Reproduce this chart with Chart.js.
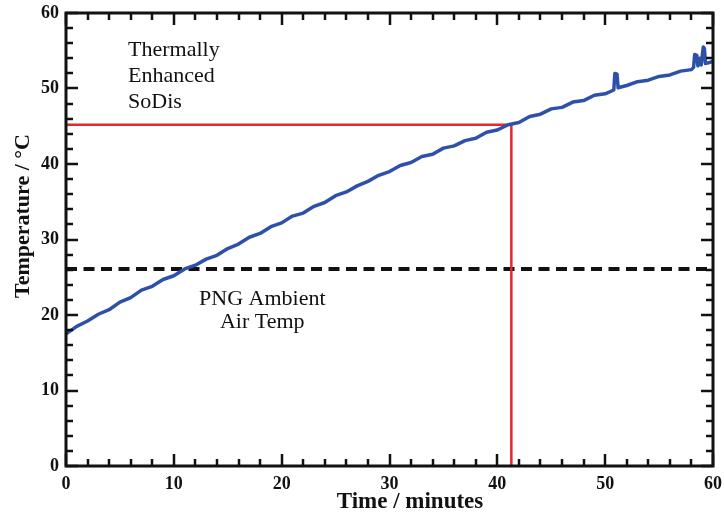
<!DOCTYPE html>
<html>
<head>
<meta charset="utf-8">
<script src="https://cdn.jsdelivr.net/npm/chart.js@4.4.1/dist/chart.umd.min.js"></script>
<style>
  html, body { margin: 0; padding: 0; background: #fff; }
  canvas { display: block; }
</style>
</head>
<body>
<canvas id="chart" width="724" height="516"></canvas>
<script>
// ── Data ─────────────────────────────────────────────────────────────────────
const TIME_MIN = [
  0, 1, 2, 3, 4, 5, 6, 7, 8, 9, 10, 11, 12, 13, 14, 15, 16, 17, 18, 19, 20,
  21, 22, 23, 24, 25, 26, 27, 28, 29, 30, 31, 32, 33, 34, 35, 36, 37, 38, 39, 40,
  41, 42, 43, 44, 45, 46, 47, 48, 49, 50, 50.8, 50.9, 51.1, 51.2, 52, 53, 54, 55, 56, 57, 58,
  58.2, 58.3, 58.5, 58.6, 58.8, 58.9, 59.1, 59.2, 59.3, 60,
];
const TEMP_C = [
  17.5, 18.5, 19.2, 20.1, 20.7, 21.7, 22.3, 23.3, 23.8, 24.7, 25.2, 26.1, 26.6, 27.4, 27.9, 28.8, 29.4, 30.3, 30.8, 31.7, 32.2,
  33.1, 33.5, 34.4, 34.9, 35.8, 36.3, 37.1, 37.7, 38.5, 39.0, 39.8, 40.2, 41.0, 41.3, 42.1, 42.4, 43.1, 43.4, 44.2, 44.5,
  45.2, 45.5, 46.3, 46.6, 47.3, 47.5, 48.2, 48.4, 49.1, 49.3, 49.8, 52.0, 51.9, 50.1, 50.4, 50.9, 51.1, 51.6, 51.8, 52.3, 52.5,
  52.8, 54.5, 54.4, 53.0, 54.0, 53.1, 55.5, 55.3, 53.3, 53.6,
];

const AMBIENT_TEMP = 26.1;      // PNG ambient air temperature
const MARK_TIME = 41.3;         // red guide: time reached
const MARK_TEMP = 45.2;         // red guide: temperature reached

const X_RANGE = [0, 60];
const Y_RANGE = [0, 60];

const FONT = "'Liberation Serif', 'Times New Roman', serif";
const BLUE = '#2d50a8';
const RED  = '#e8262e';
const INK  = '#111111';

// ── Frame, inward ticks, titles and notes ────────────────────────────────────
const framePlugin = {
  id: 'frame',
  afterDraw(chart) {
    const { ctx, chartArea: a, scales: { x, y } } = chart;
    ctx.save();
    ctx.strokeStyle = INK;
    ctx.lineWidth = 2.5;
    ctx.lineCap = 'butt';

    // ticks every 2, long every 10, pointing inward on all four sides
    ctx.beginPath();
    for (let v = X_RANGE[0]; v <= X_RANGE[1]; v += 2) {
      const len = v % 10 === 0 ? 12 : 7;
      const px = Math.round(x.getPixelForValue(v));
      ctx.moveTo(px, a.bottom); ctx.lineTo(px, a.bottom - len);
      ctx.moveTo(px, a.top);    ctx.lineTo(px, a.top + len);
    }
    for (let v = Y_RANGE[0]; v <= Y_RANGE[1]; v += 2) {
      const len = v % 10 === 0 ? 12 : 7;
      const py = Math.round(y.getPixelForValue(v));
      ctx.moveTo(a.left, py);  ctx.lineTo(a.left + len, py);
      ctx.moveTo(a.right, py); ctx.lineTo(a.right - len, py);
    }
    ctx.stroke();

    ctx.lineWidth = 3;
    ctx.strokeRect(a.left, a.top, a.right - a.left, a.bottom - a.top);

    // axis titles
    ctx.fillStyle = INK;
    ctx.font = `bold 23px ${FONT}`;
    ctx.textAlign = 'center';
    ctx.textBaseline = 'alphabetic';
    ctx.fillText('Time / minutes', 410, 508);

    ctx.save();
    ctx.translate(29, 216);
    ctx.rotate(-Math.PI / 2);
    ctx.font = `bold 22px ${FONT}`;
    ctx.fillText('Temperature / °C', 0, 0);
    ctx.restore();

    // in-plot notes
    ctx.font = `22px ${FONT}`;
    ctx.textAlign = 'left';
    ['Thermally', 'Enhanced', 'SoDis'].forEach((s, i) => {
      ctx.fillText(s, x.getPixelForValue(5.75), y.getPixelForValue(54.3) + i * 26);
    });
    ctx.textAlign = 'center';
    ctx.fillText('PNG Ambient', x.getPixelForValue(18.2), y.getPixelForValue(21.3));
    ctx.fillText('Air Temp', x.getPixelForValue(18.2), y.getPixelForValue(21.3) + 23);
    ctx.restore();
  },
};

// ── Chart ────────────────────────────────────────────────────────────────────
const tempPoints = TIME_MIN.map((t, i) => ({ x: t, y: TEMP_C[i] }));

new Chart(document.getElementById('chart'), {
  type: 'line',
  data: {
    datasets: [
      {
        label: 'Ambient',
        data: [{ x: X_RANGE[0], y: AMBIENT_TEMP }, { x: X_RANGE[1], y: AMBIENT_TEMP }],
        borderColor: INK,
        borderWidth: 4,
        borderDash: [11, 6.5],
        pointRadius: 0,
        order: 3,
      },
      {
        label: 'Guide',
        data: [{ x: X_RANGE[0], y: MARK_TEMP }, { x: MARK_TIME, y: MARK_TEMP }, { x: MARK_TIME, y: Y_RANGE[0] }],
        borderColor: RED,
        borderWidth: 2.5,
        pointRadius: 0,
        order: 2,
      },
      {
        label: 'Thermally Enhanced SoDis',
        data: tempPoints,
        borderColor: BLUE,
        borderWidth: 3.5,
        borderJoinStyle: 'round',
        pointRadius: 0,
        tension: 0,
        order: 1,
      },
    ],
  },
  options: {
    responsive: false,
    animation: false,
    layout: { padding: { top: 13, right: 11, left: 0, bottom: 0 } },
    plugins: { legend: { display: false }, tooltip: { enabled: false } },
    scales: {
      x: {
        type: 'linear',
        min: X_RANGE[0], max: X_RANGE[1],
        grid: { display: false, drawTicks: false },
        border: { display: false },
        ticks: {
          stepSize: 10,
          padding: 8,
          color: INK,
          font: { family: FONT, size: 18, weight: 'bold' },
        },
        afterFit: s => { s.height = 50; s.paddingLeft = 0; s.paddingRight = 0; },
      },
      y: {
        type: 'linear',
        min: Y_RANGE[0], max: Y_RANGE[1],
        grid: { display: false, drawTicks: false },
        border: { display: false },
        ticks: {
          stepSize: 10,
          padding: 7,
          color: INK,
          font: { family: FONT, size: 18, weight: 'bold' },
        },
        afterFit: s => { s.width = 66; s.paddingTop = 0; s.paddingBottom = 0; },
      },
    },
  },
  plugins: [framePlugin],
});
</script>
</body>
</html>
